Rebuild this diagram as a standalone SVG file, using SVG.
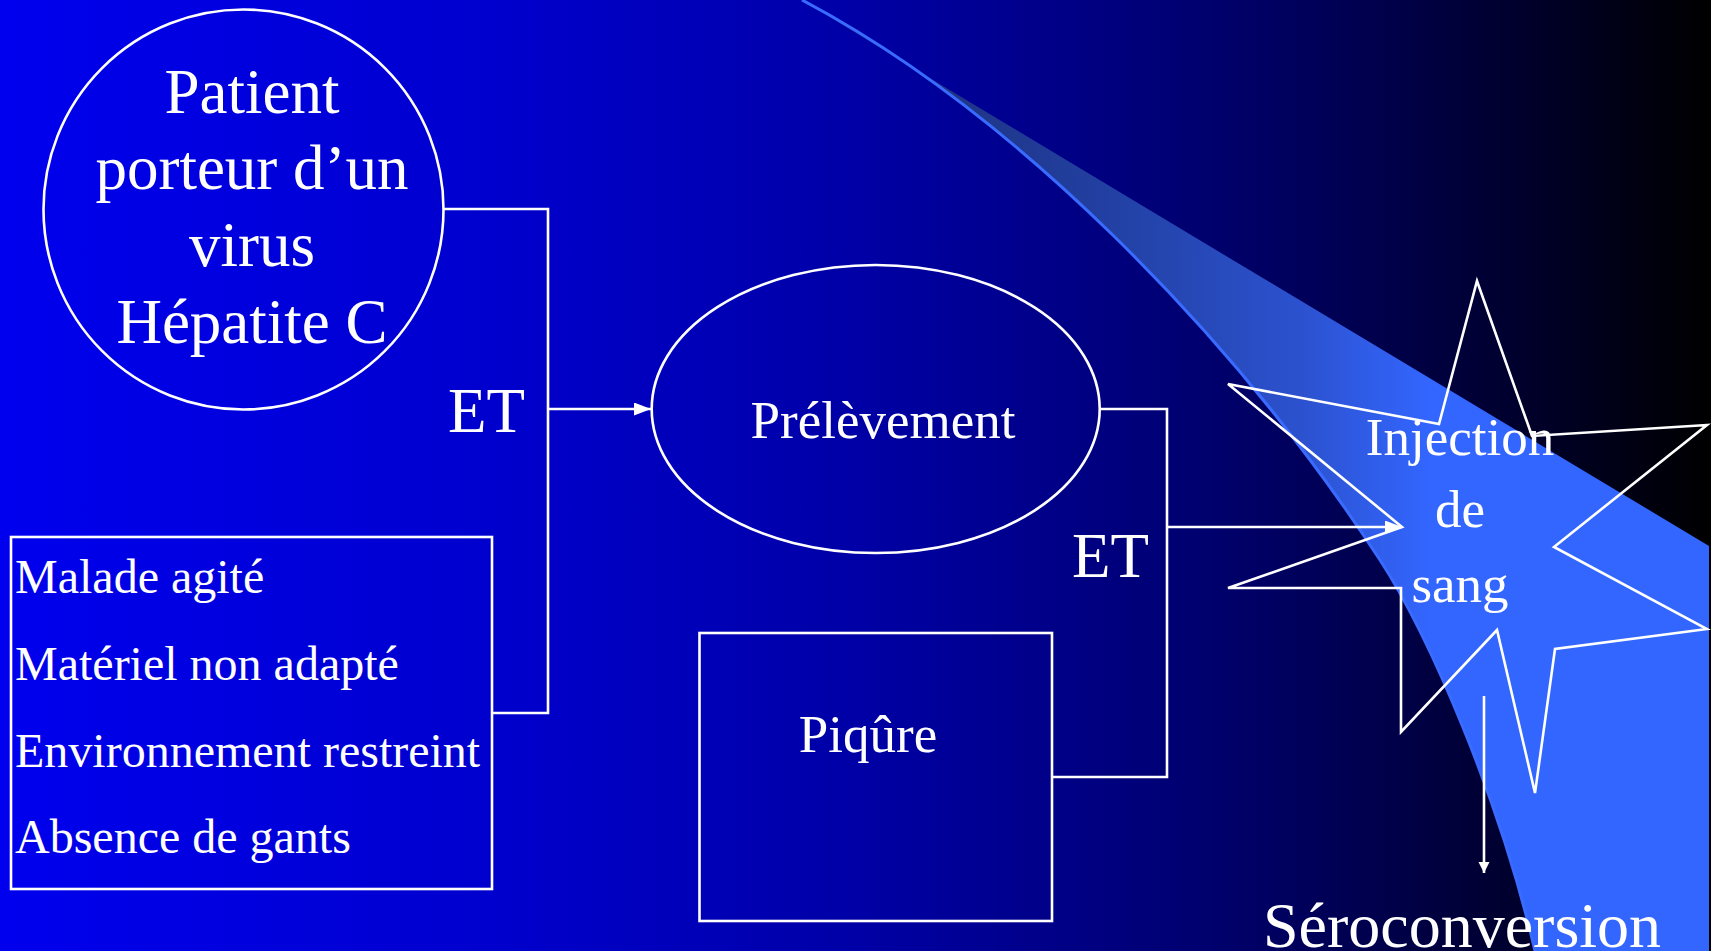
<svg xmlns="http://www.w3.org/2000/svg" width="1711" height="951" viewBox="0 0 1711 951">
<defs>
<style>
.t{font-family:"Liberation Serif","Times New Roman",serif;fill:#ffffff;}
.c{text-anchor:middle;}
.shape{fill:none;stroke:#ffffff;stroke-width:2.6;}
.conn{fill:none;stroke:#ffffff;stroke-width:2.6;}
</style>
<linearGradient id="bg" gradientUnits="userSpaceOnUse" x1="0" y1="0" x2="1711" y2="0">
<stop offset="0" stop-color="#0000EE"/>
<stop offset="0.3" stop-color="#0000CC"/>
<stop offset="0.5" stop-color="#0000A6"/>
<stop offset="0.6" stop-color="#00008C"/>
<stop offset="0.7" stop-color="#000070"/>
<stop offset="0.8" stop-color="#00004E"/>
<stop offset="0.9" stop-color="#000028"/>
<stop offset="1" stop-color="#000000"/>
</linearGradient>
<linearGradient id="sw" gradientUnits="userSpaceOnUse" x1="930" y1="0" x2="1430" y2="0">
<stop offset="0" stop-color="#1E3382"/>
<stop offset="0.35" stop-color="#2240A2"/>
<stop offset="0.75" stop-color="#2C52D0"/>
<stop offset="1" stop-color="#3366FF"/>
</linearGradient>
<marker id="arr" markerUnits="userSpaceOnUse" markerWidth="17" markerHeight="13" refX="17" refY="6.5" orient="auto">
<path d="M0,0 L17,6.5 L0,13 Z" fill="#ffffff"/>
</marker>
<marker id="arrS" markerUnits="userSpaceOnUse" markerWidth="12" markerHeight="12" refX="11" refY="5.5" orient="auto">
<path d="M0,0 L11,5.5 L0,11 Z" fill="#ffffff"/>
</marker>
</defs>

<rect x="0" y="0" width="1711" height="951" fill="url(#bg)"/>

<g id="swoosh">
<path d="M802,0 C1010,110 1230,330 1380,560 C1430,637 1500,800 1535,951 L1709,951 L1709,546 L933,80 Z" fill="url(#sw)"/>
<path d="M802,0 C1010,110 1230,330 1380,560 C1430,637 1500,800 1535,951" fill="none" stroke="#3A6BFF" stroke-width="3"/>
</g>

<g id="node-patient">
<circle class="shape" cx="243.5" cy="209.5" r="200"/>
<text class="t c" x="252" y="113" font-size="63">Patient</text>
<text class="t c" x="252" y="189" font-size="63">porteur d’un</text>
<text class="t c" x="252" y="266" font-size="63">virus</text>
<text class="t c" x="252" y="343" font-size="63">Hépatite C</text>
</g>

<g id="node-facteurs">
<rect class="shape" x="11" y="537" width="481" height="352"/>
<text class="t" x="15" y="593" font-size="48">Malade agité</text>
<text class="t" x="15" y="680" font-size="48">Matériel non adapté</text>
<text class="t" x="15" y="767" font-size="48">Environnement restreint</text>
<text class="t" x="15" y="853" font-size="48">Absence de gants</text>
</g>

<g id="node-prelevement">
<ellipse class="shape" cx="875.7" cy="409" rx="224" ry="144"/>
<text class="t c" x="883" y="438" font-size="53">Prélèvement</text>
</g>

<g id="node-piqure">
<rect class="shape" x="699.5" y="633" width="352.5" height="288"/>
<text class="t c" x="868" y="752" font-size="53">Piqûre</text>
</g>

<g id="node-injection">
<polygon class="shape" points="1477,281 1532,436 1707,425 1554,547 1707,629 1555,649 1535,793 1497,630 1401,732 1401,588 1228,588 1402,527 1228,384 1439,424"/>
<text class="t c" x="1460" y="455" font-size="53">Injection</text>
<text class="t c" x="1460" y="527" font-size="53">de</text>
<text class="t c" x="1460" y="602" font-size="53">sang</text>
</g>

<g id="node-seroconversion">
<text class="t c" x="1462" y="947" font-size="64">Séroconversion</text>
</g>

<g id="connectors">
<path class="conn" d="M444,209 H548 V713 H492"/>
<path class="conn" d="M548,409 H651" marker-end="url(#arr)"/>
<path class="conn" d="M1100,409 H1167 V777 H1052"/>
<path class="conn" d="M1167,527 H1402" marker-end="url(#arr)"/>
<path class="conn" d="M1484,696 V873" stroke-width="2.2" marker-end="url(#arrS)"/>
<text class="t" x="448" y="432" font-size="63">ET</text>
<text class="t" x="1072" y="577" font-size="63">ET</text>
</g>
</svg>
